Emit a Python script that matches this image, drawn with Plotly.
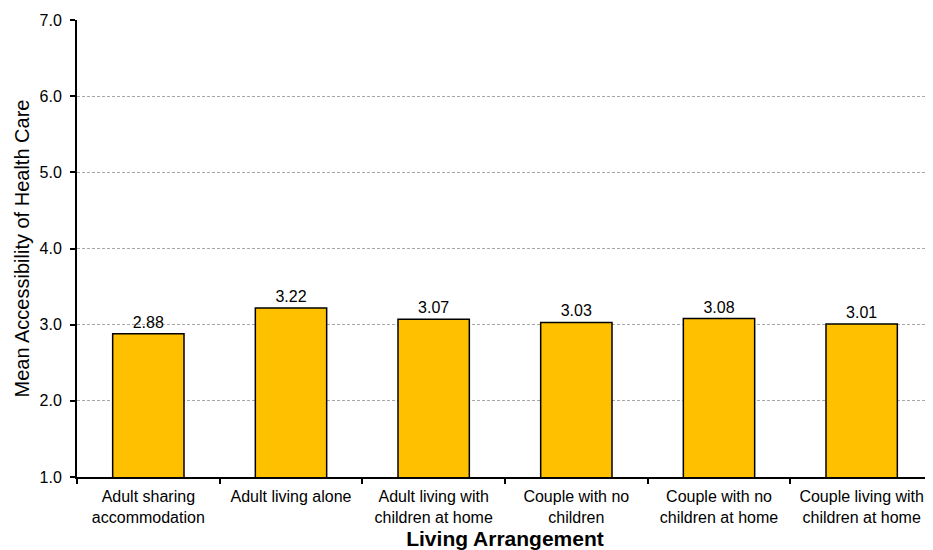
import plotly.graph_objects as go

categories = [
    "Adult sharing<br>accommodation",
    "Adult living alone",
    "Adult living with<br>children at home",
    "Couple with no<br>children",
    "Couple with no<br>children at home",
    "Couple living with<br>children at home",
]
values = [2.88, 3.22, 3.07, 3.03, 3.08, 3.01]
y_ticks = [1.0, 2.0, 3.0, 4.0, 5.0, 6.0, 7.0]

fig = go.Figure(
    go.Bar(
        x=categories,
        y=values,
        marker=dict(color="#FFC000", line=dict(color="#000000", width=1.5)),
        text=[f"{v:.2f}" for v in values],
        textposition="outside",
        textfont=dict(family="Arial, Liberation Sans", size=16, color="#000000"),
        cliponaxis=False,
        width=0.5,
    )
)

# page body has an 8px margin; figure sized to fill the 933x550 window
fig.update_layout(
    width=925,
    height=542,
    margin=dict(l=69, r=0, t=12, b=73),
    plot_bgcolor="white",
    paper_bgcolor="white",
    font=dict(family="Arial, Liberation Sans", size=16, color="#000000"),
    showlegend=False,
    xaxis=dict(
        automargin=False,
        showline=True,
        linecolor="black",
        linewidth=2,
        ticks="outside",
        ticklen=5,
        tickwidth=1.5,
        tickcolor="black",
        tickson="boundaries",
        ticklabelstandoff=4,
        showgrid=False,
        tickfont=dict(size=16),
        title=dict(text="<b>Living Arrangement</b>", font=dict(size=21), standoff=7),
    ),
    yaxis=dict(
        automargin=False,
        range=[1, 7],
        tickvals=y_ticks,
        ticktext=[f"{v:.1f}" for v in y_ticks],
        showline=True,
        linecolor="black",
        linewidth=2,
        ticks="outside",
        ticklen=5,
        tickwidth=1.5,
        tickcolor="black",
        ticklabelstandoff=5,
        showgrid=True,
        gridcolor="#A8A8A8",
        griddash="3px,2px",
        gridwidth=1,
        zeroline=False,
        tickfont=dict(size=16),
        title=dict(text="Mean Accessibility of Health Care", font=dict(size=20), standoff=5),
    ),
)

fig.write_html("out.html")
